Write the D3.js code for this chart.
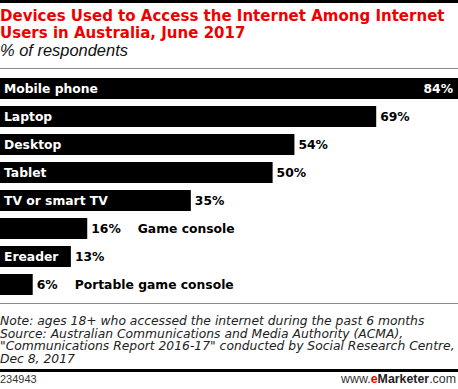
<!DOCTYPE html>
<html>
<head>
<meta charset="utf-8">
<script src="https://cdn.jsdelivr.net/npm/d3@7/dist/d3.min.js"></script>
<style>
  body { margin: 0; background: #fff; }
  svg { display: block; font-family: "DejaVu Sans", Verdana, sans-serif; }
</style>
</head>
<body>
<svg id="chart" width="458" height="389"></svg>
<script>
// data
const devices = ["Mobile phone", "Laptop", "Desktop", "Tablet", "TV or smart TV", "Game console", "Ereader", "Portable game console"]
const shares = [84, 69, 54, 50, 35, 16, 13, 6]
// bars too short to hold their name get it written after the value
const outside = ["Game console", "Portable game console"]

const titleLines = ["Devices Used to Access the Internet Among Internet", "Users in Australia, June 2017"]
const subtitle = "% of respondents"
const noteLines = [
    "Note: ages 18+ who accessed the internet during the past 6 months",
    "Source: Australian Communications and Media Authority (ACMA),",
    "\"Communications Report 2016-17\" conducted by Social Research Centre,",
    "Dec 8, 2017"
]
const chartId = "234943"

const W = 458, H = 389
const svg = d3.select("#chart")

// scale font size of a text so it spans the given width, returns the size
function fit(node, width) {
    const fs = +d3.select(node).attr("font-size")
    const s = fs * width / node.getComputedTextLength()
    d3.select(node).attr("font-size", s)
    return s
}

// header
svg.append("rect").attr("x", 0).attr("y", 0).attr("width", W).attr("height", 3).attr("fill", "#000")

const title = svg.append("g").selectAll("text")
    .data(titleLines)
    .enter().append("text")
    .attr("x", 0)
    .attr("y", (d, i) => 21 + i * 16.5)
    .attr("fill", "#ee0000")
    .attr("font-weight", "bold")
    .attr("font-size", 14)
    .text(d => d)
const titleSize = fit(title.nodes()[0], 445)
title.attr("font-size", titleSize)

const sub = svg.append("text")
    .attr("x", 0).attr("y", 56)
    .attr("font-family", "Liberation Sans, Arial, sans-serif")
    .attr("font-style", "italic")
    .attr("font-size", 15)
    .attr("fill", "#111")
    .text(subtitle)
fit(sub.node(), 128)

svg.append("line").attr("x1", 0).attr("x2", W).attr("y1", 68.5).attr("y2", 68.5)
    .attr("stroke", "#8a8a8a").attr("stroke-width", 1)

// bars
const y = d3.scaleBand()
    .domain(devices)
    .range([74.5, 298.5])
    .paddingInner(0.25)
    .paddingOuter(0.125)

const x = d3.scaleLinear()
    .domain([0, 84])
    .range([0, 458])

const rows = svg.append("g").selectAll(".row")
    .data(devices.map((d, i) => ({ name: d, v: shares[i] })))
    .enter().append("g")
    .attr("class", "row")

rows.append("rect")
    .attr("x", 0)
    .attr("y", d => y(d.name))
    .attr("width", d => x(d.v))
    .attr("height", y.bandwidth())
    .attr("fill", "#000")

const names = rows.filter(d => outside.indexOf(d.name) < 0)
    .append("text")
    .attr("x", 4)
    .attr("y", d => y(d.name) + y.bandwidth() / 2 + 4.5)
    .attr("fill", "#fff")
    .attr("font-weight", "bold")
    .attr("font-size", 12)
    .text(d => d.name)
const labelSize = fit(names.nodes()[0], 94)
names.attr("font-size", labelSize)

const vals = rows.append("text")
    .attr("y", d => y(d.name) + y.bandwidth() / 2 + 4.5)
    .attr("font-weight", "bold")
    .attr("font-size", labelSize)
    .text(d => d.v + "%")

vals.each(function (d, i) {
    const t = d3.select(this)
    if (i == 0) {
        // widest bar: value sits inside, right aligned
        t.attr("x", x(d.v) - 5).attr("text-anchor", "end").attr("fill", "#fff")
    } else {
        t.attr("x", x(d.v) + 4).attr("fill", "#000")
    }
})

vals.filter(d => outside.indexOf(d.name) >= 0).each(function (d) {
    const end = x(d.v) + 4 + this.getComputedTextLength()
    d3.select(this.parentNode).append("text")
        .attr("x", end + 17)
        .attr("y", y(d.name) + y.bandwidth() / 2 + 4.5)
        .attr("font-weight", "bold")
        .attr("font-size", labelSize)
        .attr("fill", "#000")
        .text(d.name)
})

// notes
svg.append("line").attr("x1", 0).attr("x2", W).attr("y1", 303.5).attr("y2", 303.5)
    .attr("stroke", "#8a8a8a").attr("stroke-width", 1)

const notes = svg.append("g").selectAll("text")
    .data(noteLines)
    .enter().append("text")
    .attr("x", 0)
    .attr("y", (d, i) => 325 + i * 12.7)
    .attr("font-style", "italic")
    .attr("font-size", 12)
    .attr("fill", "#222")
    .text(d => d)
const noteSize = fit(notes.nodes()[2], 455)
notes.attr("font-size", noteSize)

svg.append("rect").attr("x", 0).attr("y", 369).attr("width", W).attr("height", 3).attr("fill", "#000")

svg.append("text")
    .attr("x", 0).attr("y", 383)
    .attr("font-family", "Liberation Sans, Arial, sans-serif")
    .attr("font-size", 11)
    .attr("fill", "#333")
    .text(chartId)

const brand = svg.append("text")
    .attr("x", 456).attr("y", 383)
    .attr("text-anchor", "end")
    .attr("font-family", "Liberation Sans, Arial, sans-serif")
    .attr("font-size", 11.5)
    .attr("fill", "#333")
brand.append("tspan").text("www.")
brand.append("tspan").attr("fill", "#ee0000").attr("font-weight", "bold").text("e")
brand.append("tspan").attr("font-weight", "bold").attr("fill", "#222").text("Marketer")
brand.append("tspan").text(".com")
fit(brand.node(), 115)
</script>
</body>
</html>
